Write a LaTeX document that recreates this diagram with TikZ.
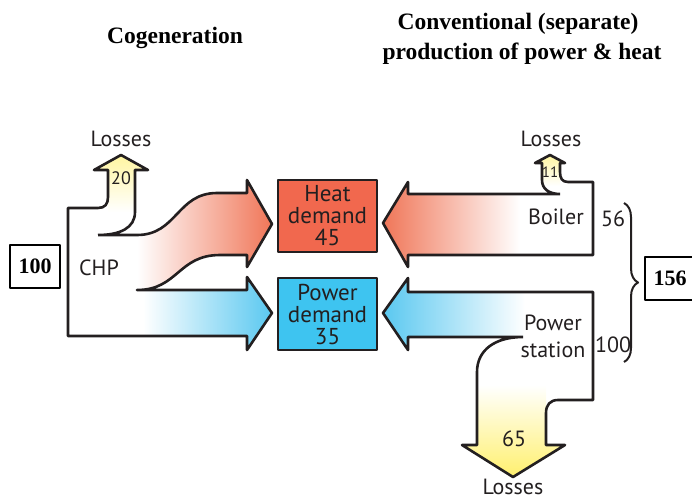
\documentclass[tikz,border=0pt]{standalone}
\usepackage{fontspec}
\setmainfont{Liberation Serif}
\newfontfamily\labelfont{PT Sans}
\usetikzlibrary{decorations.pathreplacing}

\definecolor{ink}{RGB}{35,31,32}
\definecolor{heatred}{RGB}{241,104,78}
\definecolor{heatarrow}{RGB}{240,118,88}
\definecolor{powerblue}{RGB}{62,196,240}
\definecolor{powerarrow}{RGB}{90,200,240}
\definecolor{lossyellow}{RGB}{255,240,110}

\begin{document}
\begin{tikzpicture}[x=1pt,y=-1pt,line join=round]
\tikzset{
  outl/.style={draw=ink,line width=2.6pt},
  lbl/.style={inner sep=0pt,text=ink,font=\labelfont\fontsize{22}{27}\selectfont},
  smallnum/.style={lbl,font=\labelfont\fontsize{18}{18}\selectfont},
  demand/.style={draw=ink,line width=2.2pt,inner sep=0pt,minimum width=99pt,minimum height=72pt,
    align=center,text=ink,font=\labelfont\fontsize{23}{22}\selectfont},
  total/.style={draw=black,line width=2pt,inner sep=0pt,minimum width=50pt,minimum height=43pt,
    font=\bfseries\fontsize{22}{24}\selectfont},
  title/.style={inner sep=0pt,anchor=base,font=\bfseries\fontsize{23.5}{28}\selectfont}
}
\useasboundingbox (0,0) rectangle (692,501);

% ---------- titles ----------
\node[title] (cogen) at (175,43) {Cogeneration};
\node[title] (conv) at (518,29) {Conventional (separate)};
\node[title] (prod) at (522,59) {production of power \& heat};

% ---------- left: CHP, gradient fills ----------
\shade[top color=lossyellow!65,bottom color=white] (108,212) -- (108,170) -- (94,170) -- (121,155)
  -- (148,170) -- (135,170) -- (135,212) -- cycle;
\shade[left color=white,right color=heatarrow] (137,235) .. controls (177,235) and (177,193) .. (217,193)
  -- (247,193) -- (247,180) -- (272,224) -- (247,267) -- (247,255) -- (220,255)
  .. controls (178,255) and (178,290) .. (137,290) -- cycle;
\shade[left color=white,right color=powerarrow] (143,290) -- (247,290) -- (247,277) -- (272,313)
  -- (247,350) -- (247,336) -- (143,336) -- cycle;
% ---------- left: CHP, outline ----------
\draw[outl] (98,235) -- (137,235) .. controls (177,235) and (177,193) .. (217,193) -- (247,193)
  -- (247,180) -- (272,224) -- (247,267) -- (247,255) -- (220,255)
  .. controls (178,255) and (178,290) .. (137,290) -- (247,290) -- (247,277) -- (272,313)
  -- (247,350) -- (247,336) -- (68,336) -- (68,208) -- (98,208)
  .. controls (105,208) and (108,204) .. (108,197) -- (108,170) -- (94,170) -- (121,155)
  -- (148,170) -- (135,170) -- (135,212) .. controls (135,228) and (120,235) .. (98,235);

\node[lbl] (lossA) at (121,139) {Losses};
\node[smallnum] (lossAval) at (121,178) {20};
\node[lbl] (chp) at (99,268) {CHP};
\node[total] (inA) at (35,266.5) {100};

% ---------- middle: demand ----------
\node[demand,fill=heatred] (heat) at (327.5,216) {Heat\\demand\\45};
\node[demand,fill=powerblue] (power) at (327.5,314) {Power\\demand\\35};

% ---------- right: boiler ----------
\shade[left color=heatarrow,right color=white] (520,194) -- (408,194) -- (408,182) -- (383,223)
  -- (408,267) -- (408,255) -- (520,255) -- cycle;
\shade[top color=lossyellow!65,bottom color=white] (542,186) -- (542,163) -- (535,163) -- (550,155)
  -- (565,163) -- (560,163) -- (560,186) -- cycle;
\draw[outl] (560,194) -- (408,194) -- (408,182) -- (383,223) -- (408,267) -- (408,255) -- (593,255)
  -- (593,182) -- (568,182) .. controls (562,182) and (560,178) .. (560,172) -- (560,163)
  -- (565,163) -- (550,155) -- (535,163) -- (542,163) -- (542,180)
  .. controls (542,189) and (549,194) .. (560,194);

\node[lbl] (lossB) at (551,139) {Losses};
\node[lbl,font=\labelfont\fontsize{15}{15}\selectfont] (lossBval) at (550,172) {11};
\node[lbl] (boiler) at (556,217) {Boiler};
\node[lbl] (boilerin) at (613,219) {56};

% ---------- right: power station ----------
\shade[left color=powerarrow,right color=white] (525,292) -- (408,292) -- (408,278) -- (383,313)
  -- (408,350) -- (408,337) -- (525,337) -- cycle;
\shade[top color=white,bottom color=lossyellow] (477,385) -- (477,445) -- (462,445) -- (513,477)
  -- (565,445) -- (546,445) -- (546,385) -- cycle;
\draw[outl] (523,337) -- (408,337) -- (408,350) -- (383,313) -- (408,278) -- (408,292) -- (593,292)
  -- (593,400) -- (558,400) .. controls (550,400) and (546,405) .. (546,413) -- (546,445)
  -- (565,445) -- (513,477) -- (462,445) -- (477,445) -- (477,372)
  .. controls (477,350) and (495,337) .. (523,337);

\node[lbl,align=center] (station) at (553,336) {Power\\station};
\node[lbl] (stationin) at (613,345) {100};
\node[lbl] (lossCval) at (514,439) {65};
\node[lbl,anchor=base] (lossC) at (513,494) {Losses};

% ---------- total ----------
\coordinate (braceTop) at (624,203);
\coordinate (braceBot) at (624,362);
\draw[ink,line width=2pt,decorate,decoration={brace,amplitude=14pt}] (braceTop) -- (braceBot);
\node[total] (inB) at (670,278.5) {156};
\end{tikzpicture}
\end{document}
